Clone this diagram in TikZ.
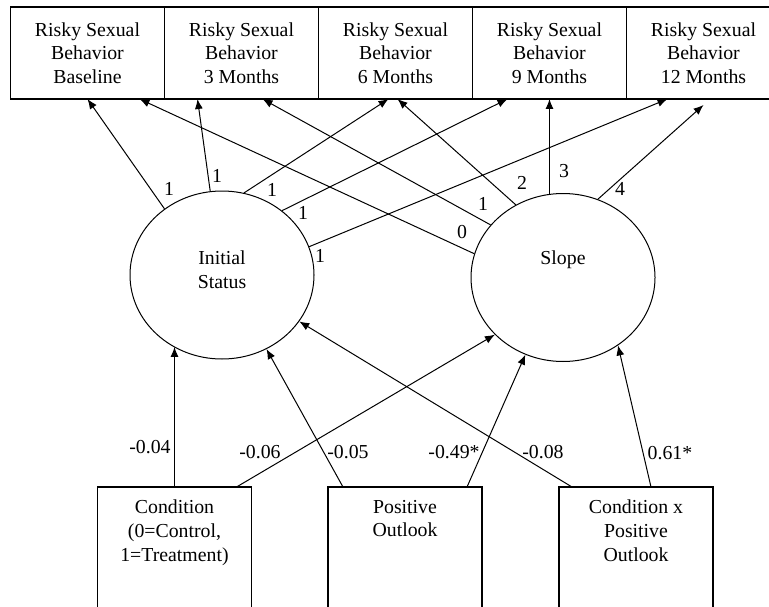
\documentclass[tikz,border=0pt]{standalone}
\usepackage{fontspec}
\setmainfont{Liberation Serif}
\usetikzlibrary{positioning,shapes.geometric,arrows.meta}

\begin{document}
\begin{tikzpicture}[
  x=1pt, y=1pt,
  font=\fontsize{9.9}{11.85}\selectfont,
  line width=0.5pt,
  toprect/.style={
    draw,
    line width=0.65pt,
    rectangle,
    minimum width=77pt,
    minimum height=46pt,
    align=center,
    inner sep=0pt,
    outer sep=0pt
    },
  latent/.style={
    draw,
    ellipse,
    minimum width=92pt,
    minimum height=84pt,
    inner sep=0pt
    },
  botrect/.style={
    draw,
    line width=0.65pt,
    rectangle,
    minimum width=77pt,
    minimum height=80pt,
    anchor=north,
    outer sep=0pt
    },
  arr/.style={-{Latex[length=5pt,width=4pt]}},
  coef/.style={inner sep=0pt}
]

\useasboundingbox (0,0) rectangle (384.5,303);
\clip (0,0) rectangle (384.5,303);

% outcome boxes
\node[toprect] (b1) at (43.75,276.5) {Risky Sexual\\Behavior\\Baseline};
\foreach \Mes [count=\Mesi from 2] in {3 Months, 6 Months, 9 Months, 12 Months}
  {
  \pgfmathtruncatemacro\Prev{\Mesi-1}
  \node[toprect, right=0pt of b\Prev] (b\Mesi) {Risky Sexual\\Behavior\\\Mes};
  }

% growth factors
\node[latent, label={[yshift=2.5pt, align=center]center:Initial\\Status}] (ini) at (111,165.5) {};
\node[latent, label={[yshift=8.75pt]center:Slope}] (slp) at (281.5,164.25) {};

% predictors
\node[botrect, label={[anchor=north, yshift=-3pt, align=center]north:Condition\\(0=Control,\\1=Treatment)}] (cond) at (87.25,59.5) {};
\node[botrect, label={[anchor=north, yshift=-3pt, align=center]north:Positive\\Outlook}] (pos) at (202.5,59.5) {};
\node[botrect, label={[anchor=north, yshift=-3pt, align=center]north:Condition x\\Positive\\Outlook}] (cxp) at (318,59.5) {};

% loadings
\draw[arr] (ini.131.8) -- (b1.south);
\draw[arr] (ini.98.1) -- ([xshift=-22pt]b2.south);
\draw[arr] (ini.75.8) -- ([xshift=-3.5pt]b3.south);
\draw[arr] (ini.47.7) -- ([xshift=-21pt]b4.south);
\draw[arr] (ini.18.4) -- ([xshift=-18pt]b5.south);

\draw[arr] (slp.165.7) -- ([xshift=26pt]b1.south);
\draw[arr] (slp.144.3) -- ([xshift=10.5pt]b2.south);
\draw[arr] (slp.123.1) -- ([xshift=1pt]b3.south);
\draw[arr] (b4.south |- slp.100.2) -- (b4.south);
\draw[arr] (slp.66.8) -- ([yshift=-3pt]b5.south);

\node[coef] (l1) at (84.5,208.5) {1};
\node[coef] (l2) at (108.5,215) {1};
\node[coef] (l3) at (136,208) {1};
\node[coef] (l4) at (151.5,196.5) {1};
\node[coef] (l5) at (160,175) {1};
\node[coef] (s1) at (231,187) {0};
\node[coef] (s2) at (241.5,201) {1};
\node[coef] (s3) at (261,211.5) {2};
\node[coef] (s4) at (282,217.5) {3};
\node[coef] (s5) at (310,208.5) {4};

% regressions
\draw[arr] (cond.north) -- (cond.north |- ini.236);
\draw[arr] ([xshift=31pt]cond.north) -- (slp.220);
\draw[arr] ([xshift=-31pt]pos.north) -- (ini.301);
\draw[arr] ([xshift=31pt]pos.north) -- (slp.244.5);
\draw[arr] ([xshift=-32pt]cxp.north) -- (ini.329);
\draw[arr] ([xshift=7.5pt]cxp.north) -- (slp.309.6);

\node[coef] (r1) at (75,79.5) {-0.04};
\node[coef] (r2) at (130,77) {-0.06};
\node[coef] (r3) at (174,77) {-0.05};
\node[coef] (r4) at (227,77) {-0.49*};
\node[coef] (r5) at (271.5,77) {-0.08};
\node[coef] (r6) at (335,76.5) {0.61*};
\end{tikzpicture}
\end{document}
